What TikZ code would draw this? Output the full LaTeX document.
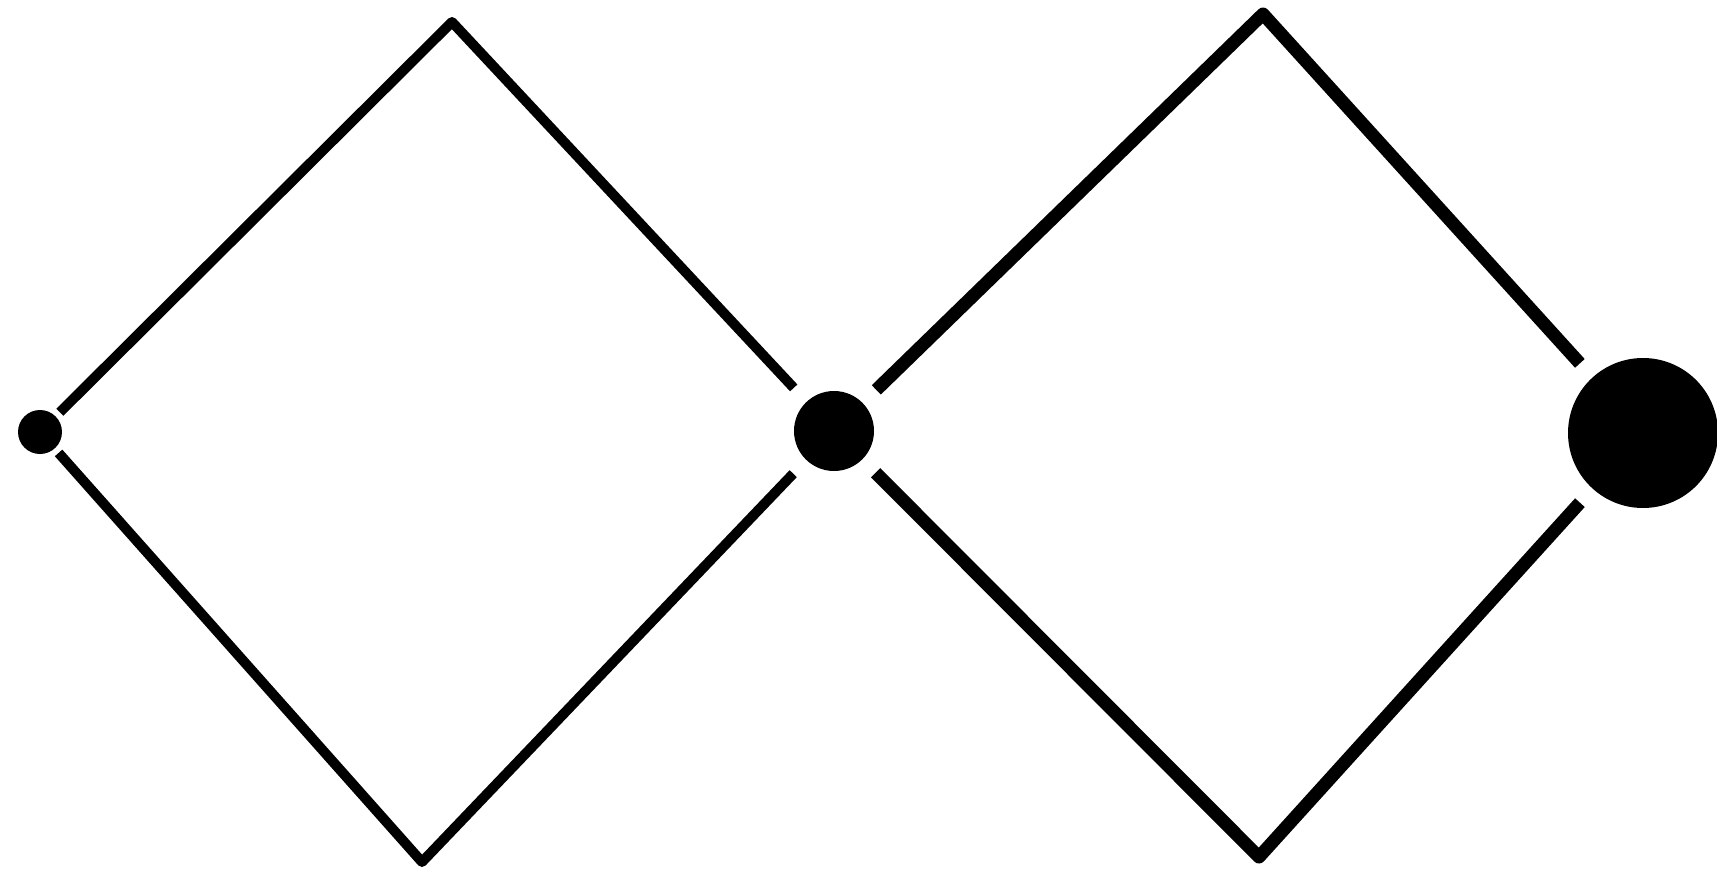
\documentclass[tikz,border=0pt]{standalone}
\begin{document}
\begin{tikzpicture}[x=1pt,y=-1pt,
  dot/.style={circle,fill=black,inner sep=0pt},
  edgeA/.style={line width=10pt,line join=round},
  edgeB/.style={line width=13pt,line join=round}]
\useasboundingbox (0,0) rectangle (1717,881);
\node[dot,minimum size=44pt,outer sep=6pt] (L) at (40,432) {};
\node[dot,minimum size=80pt,outer sep=19pt] (M) at (834,431) {};
\node[dot,minimum size=150pt,outer sep=19pt] (R) at (1643,433) {};
\coordinate (T1) at (452,22);
\coordinate (B1) at (422,862);
\coordinate (T2) at (1263,14);
\coordinate (B2) at (1259,857);
\draw[edgeA] (L) -- (T1) -- (M);
\draw[edgeA] (L) -- (B1) -- (M);
\draw[edgeB] (M) -- (T2) -- (R);
\draw[edgeB] (M) -- (B2) -- (R);
\end{tikzpicture}
\end{document}
